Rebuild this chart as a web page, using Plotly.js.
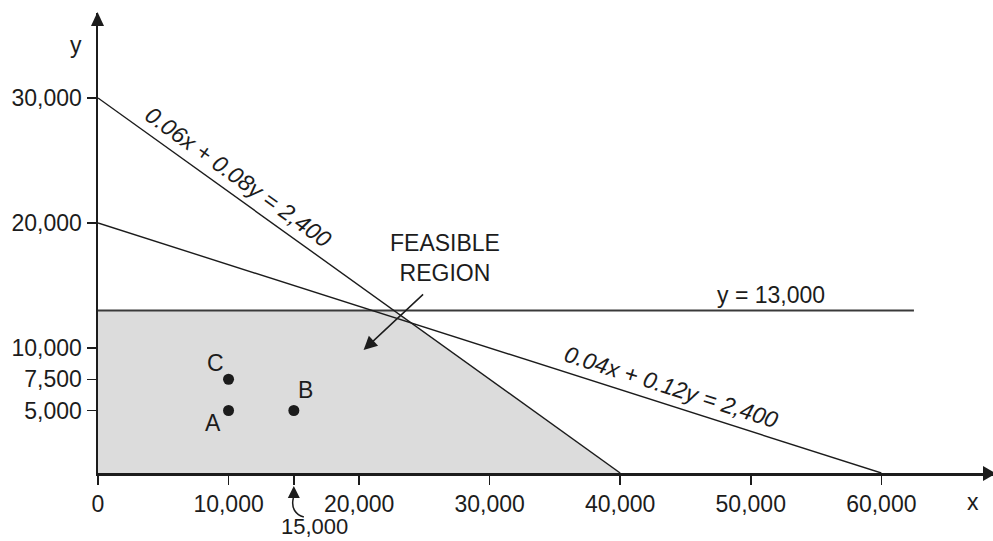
<!DOCTYPE html>
<html>
<head>
<meta charset="utf-8">
<script src="https://cdn.plot.ly/plotly-3.0.1.min.js"></script>
<style>html,body{margin:0;padding:0;background:#fff;}#chart{width:993px;height:541px;}</style>
</head>
<body>
<div id="chart"></div>
<script>
// ---- data ----
const line1X = [0, 40000];
const line1Y = [30000, 0];
const line1Label = '0.06x + 0.08y = 2,400';
const line2X = [0, 60000];
const line2Y = [20000, 0];
const line2Label = '0.04x + 0.12y = 2,400';
const capX = [0, 62500];
const capY = [13000, 13000];
const capLabel = 'y = 13,000';
const regionX = [0, 0, 22667, 40000, 0];
const regionY = [0, 13000, 13000, 0, 0];
const pointX = [10000, 15000, 10000];
const pointY = [5000, 5000, 7500];
const pointLabels = ['A', 'B', 'C'];
const xTickVals = [0, 10000, 15000, 20000, 30000, 40000, 50000, 60000];
const xTickText = ['0', '10,000', '', '20,000', '30,000', '40,000', '50,000', '60,000'];
const yTickVals = [5000, 7500, 10000, 20000, 30000];
const yTickText = ['5,000', '7,500', '10,000', '20,000', '30,000'];
const markedX = 15000;
const markedXText = '15,000';

// ---- layout geometry ----
const W = 993, H = 541;
const M = {l: 98, r: 0, t: 13, b: 68};
const plotW = W - M.l - M.r, plotH = H - M.t - M.b;
const pxPerX = 0.013055, pxPerY = 0.0125;
const xEnd = plotW / pxPerX;
const yEnd = plotH / pxPerY;
const ink = '#1c1c1c';
const FONT = 'Liberation Sans, Arial, Helvetica, sans-serif';

// pixel offset from the point (markedX, y=0) -> paper coordinates
function offPaper(dx, dy) {
  const px = M.l + markedX / xEnd * plotW + dx;
  const py = H - M.b + dy;
  return ((px - M.l) / plotW).toFixed(5) + ',' + ((H - M.b - py) / plotH).toFixed(5);
}
const curvePath = 'M' + offPaper(-0.5, 25) + ' C' + offPaper(-3, 35) + ' ' + offPaper(2, 42) + ' ' + offPaper(10, 44);

const traces = [
  {x: regionX, y: regionY, type: 'scatter', mode: 'lines', fill: 'toself',
   fillcolor: '#dcdcdc', line: {width: 0, color: 'rgba(0,0,0,0)'}, hoverinfo: 'skip'},
  {x: capX, y: capY, type: 'scatter', mode: 'lines', line: {color: '#3a3a3a', width: 2}},
  {x: line1X, y: line1Y, type: 'scatter', mode: 'lines', line: {color: ink, width: 1.4}},
  {x: line2X, y: line2Y, type: 'scatter', mode: 'lines', line: {color: ink, width: 1.4}},
  {x: pointX, y: pointY, type: 'scatter', mode: 'markers', marker: {color: ink, size: 11}, cliponaxis: false}
];

const labelShift = {A: [-16, -12], B: [12, 21], C: [-13, 16]};
const annotations = [];
pointLabels.forEach((t, i) => {
  annotations.push({x: pointX[i], y: pointY[i], xref: 'x', yref: 'y', text: t, showarrow: false,
    xshift: labelShift[t][0], yshift: labelShift[t][1], font: {size: 23, color: ink, family: FONT}});
});
annotations.push(
  {x: 10747, y: 23680, xref: 'x', yref: 'y', text: '<i>' + line1Label + '</i>', showarrow: false,
   textangle: 35.7, font: {size: 23, color: ink, family: FONT}},
  {x: 43910, y: 6880, xref: 'x', yref: 'y', text: '<i>' + line2Label + '</i>', showarrow: false,
   textangle: 17.7, font: {size: 23, color: ink, family: FONT}},
  {x: 51540, y: 14240, xref: 'x', yref: 'y', text: capLabel, showarrow: false,
   font: {size: 23, color: ink, family: FONT}},
  {x: 26610, y: 17240, xref: 'x', yref: 'y', text: 'FEASIBLE<br>REGION', showarrow: false,
   font: {size: 23, color: ink, family: FONT}},
  {x: 20345, y: 9840, xref: 'x', yref: 'y', ax: 61, ay: -57, text: '', showarrow: true,
   arrowhead: 2, arrowsize: 1.8, arrowwidth: 1.5, arrowcolor: ink},
  {x: markedX, y: 0, xref: 'x', yref: 'y', ax: 0, ay: 26, text: '', showarrow: true, standoff: 13,
   arrowhead: 2, arrowsize: 1.6, arrowwidth: 1.5, arrowcolor: ink},
  {x: 16568, y: 0, xref: 'x', yref: 'paper', text: markedXText, showarrow: false, yshift: -53,
   xanchor: 'center', yanchor: 'middle', borderpad: 0, font: {size: 22, color: ink, family: FONT}},
  {x: 67047, y: 0, xref: 'x', yref: 'paper', text: 'x', showarrow: false, yshift: -29,
   xanchor: 'center', yanchor: 'middle', font: {size: 23, color: ink, family: FONT}},
  {x: 0, y: 34240, xref: 'paper', yref: 'y', text: 'y', showarrow: false, xshift: -22,
   xanchor: 'center', yanchor: 'middle', font: {size: 23, color: ink, family: FONT}}
);

const shapes = [
  // y-axis arrowhead
  {type: 'path', xref: 'paper', yref: 'paper', xsizemode: 'pixel', ysizemode: 'pixel',
   xanchor: 0, yanchor: 1, path: 'M -0.5 1 L -7 -13 L 6 -13 Z', fillcolor: ink, line: {width: 0}},
  // x-axis arrowhead
  {type: 'path', xref: 'paper', yref: 'paper', xsizemode: 'pixel', ysizemode: 'pixel',
   xanchor: 1, yanchor: 0, path: 'M 3 -0.5 L -10 7 L -10 -8 Z', fillcolor: ink, line: {width: 0}},
  // curved pointer for 15,000
  {type: 'path', xref: 'paper', yref: 'paper', path: curvePath,
   fillcolor: 'rgba(0,0,0,0)', line: {color: ink, width: 1.5}}
];

const layout = {
  width: W, height: H, margin: M, showlegend: false,
  paper_bgcolor: '#fff', plot_bgcolor: '#fff',
  font: {family: FONT, size: 23, color: ink},
  xaxis: {range: [0, xEnd], showgrid: false, zeroline: false, showline: true, linecolor: ink, linewidth: 2.5,
          ticks: 'outside', ticklen: 9, tickwidth: 1.5, tickcolor: ink,
          tickvals: xTickVals, ticktext: xTickText, tickfont: {size: 23, color: ink, family: FONT}, fixedrange: true},
  yaxis: {range: [0, yEnd], showgrid: false, zeroline: false, showline: true, linecolor: ink, linewidth: 2.5,
          ticks: 'outside', ticklen: 9, tickwidth: 1.5, tickcolor: ink,
          tickvals: yTickVals, ticktext: yTickText, tickfont: {size: 23, color: ink, family: FONT}, fixedrange: true},
  annotations: annotations,
  shapes: shapes
};

Plotly.newPlot('chart', traces, layout, {displayModeBar: false, staticPlot: true});
</script>
</body>
</html>
